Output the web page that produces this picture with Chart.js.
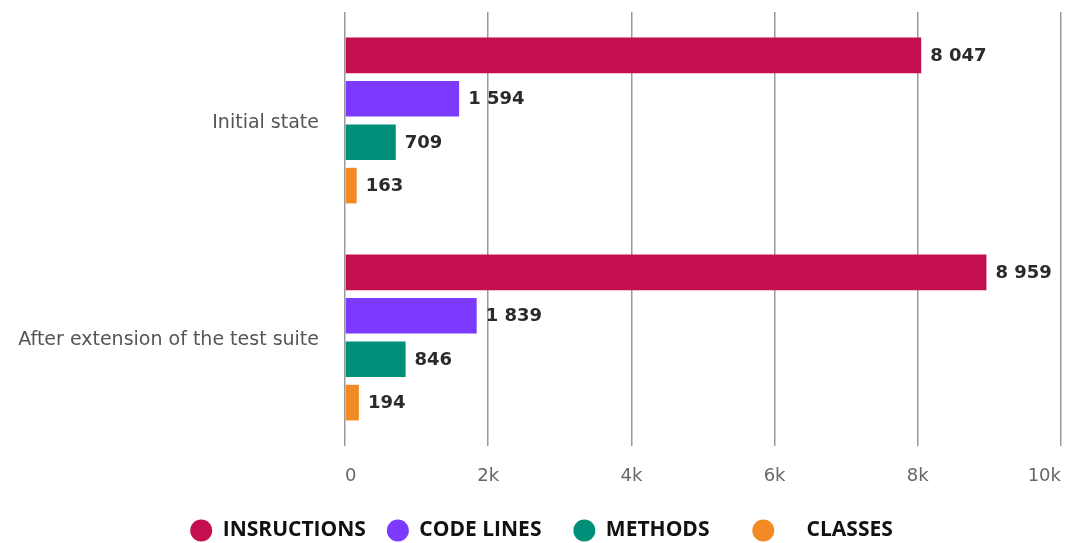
<!DOCTYPE html>
<html>
<head>
<meta charset="utf-8">
<script src="https://cdn.jsdelivr.net/npm/chart.js@4/dist/chart.umd.min.js"></script>
<style>
html,body{margin:0;padding:0;background:#fff;}
#wrap{width:1065px;height:543px;position:relative;}
</style>
</head>
<body>
<div id="wrap"><canvas id="c" width="1065" height="543"></canvas></div>
<script>
const categories = ["Initial state", "After extension of the test suite"];
const instructions = [8047, 8959];
const codeLines = [1594, 1839];
const methods = [709, 846];
const classes = [163, 194];
const seriesNames = ["INSRUCTIONS", "CODE LINES  ", "METHODS    ", "    CLASSES"];
const xTicks = [0, 2000, 4000, 6000, 8000, 10000];
const xTickLabels = ["0", "2k", "4k", "6k", "8k", "10k"];
const colors = ["#C30F50", "#7C3AFF", "#00907A", "#F38B25"];

function fmt(v){ return String(v).replace(/\B(?=(\d{3})+(?!\d))/g, " "); }

const valueLabels = {
  id: 'valueLabels',
  afterDatasetsDraw(chart){
    const ctx = chart.ctx;
    ctx.save();
    ctx.font = 'bold 18px "DejaVu Sans"';
    ctx.fillStyle = '#2a2a2a';
    ctx.textAlign = 'left';
    ctx.textBaseline = 'middle';
    chart.data.datasets.forEach((ds, i) => {
      chart.getDatasetMeta(i).data.forEach((bar, j) => {
        ctx.fillText(fmt(ds.data[j]), bar.x + 9, bar.y + 1);
      });
    });
    ctx.restore();
  }
};

const legendShift = {
  id: 'legendShift',
  afterLayout(chart){
    if (chart.legend) { chart.legend.left += 11; chart.legend.right += 11; }
  }
};

const seriesData = [instructions, codeLines, methods, classes];

new Chart(document.getElementById('c'), {
  type: 'bar',
  data: {
    labels: categories,
    datasets: seriesNames.map((n, i) => ({
      label: n,
      data: seriesData[i],
      backgroundColor: colors[i],
      borderWidth: 0,
      categoryPercentage: 0.8,
      barPercentage: 0.82
    }))
  },
  options: {
    indexAxis: 'y',
    responsive: false,
    animation: false,
    layout: { padding: { top: 12, left: 0, right: 4, bottom: -8 } },
    scales: {
      x: {
        min: 0, max: 10000,
        afterBuildTicks(s){ s.ticks = xTicks.map(v => ({value: v})); },
        ticks: {
          callback: (v, i) => xTickLabels[i],
          color: '#666',
          font: { family: '"DejaVu Sans"', size: 18 },
          padding: 20,
          align: 'inner'
        },
        grid: { color: '#999', lineWidth: 1.5, drawTicks: false },
        border: { display: false },
        afterFit(s){ s.height = 53; s.paddingLeft = 0; s.paddingRight = 0; s.paddingTop = 0; s.paddingBottom = 0; }
      },
      y: {
        ticks: {
          color: '#555',
          font: { family: '"DejaVu Sans"', size: 19 },
          padding: 26,
          labelOffset: 3
        },
        grid: { display: false, drawTicks: false },
        border: { display: false },
        afterFit(s){ s.width = 345; s.paddingLeft = 0; s.paddingRight = 0; s.paddingTop = 0; s.paddingBottom = 0; }
      }
    },
    plugins: {
      legend: {
        position: 'bottom',
        labels: {
          usePointStyle: true,
          pointStyle: 'circle',
          pointStyleWidth: 22,
          boxWidth: 22,
          boxHeight: 15.5,
          padding: 21,
          color: '#111',
          font: { family: '"Open Sans"', size: 21, weight: 'bold' }
        }
      },
      tooltip: { enabled: false }
    }
  },
  plugins: [valueLabels, legendShift]
});
</script>
</body>
</html>
